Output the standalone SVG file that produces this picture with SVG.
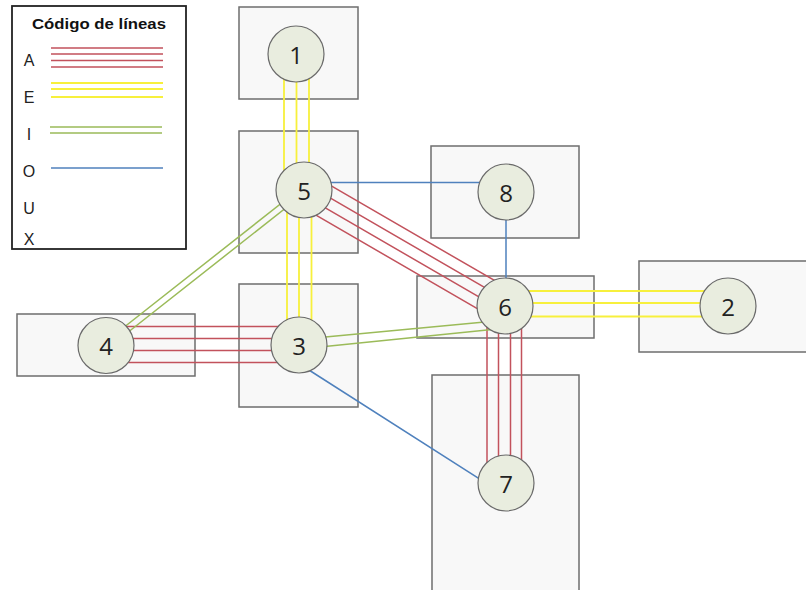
<svg xmlns="http://www.w3.org/2000/svg" width="806" height="590" viewBox="0 0 806 590">
  <style>
    .area { fill: #f8f8f8; stroke: #6e6e6e; stroke-width: 1.5; }
    .node { fill: #e9eddf; stroke: #6a6a6a; stroke-width: 1.2; }
    .num { font-family: "Open Sans", "Liberation Sans", sans-serif; font-size: 24px; fill: #222; text-anchor: middle; dominant-baseline: central; }
    .a { stroke: #c2525c; stroke-width: 1.5; fill: none; }
    .e { stroke: #f7f03c; stroke-width: 1.8; fill: none; }
    .i { stroke: #9bbb59; stroke-width: 1.5; fill: none; }
    .o { stroke: #4f81bd; stroke-width: 1.5; fill: none; }
    .lg { font-family: "Liberation Sans", Arial, sans-serif; font-size: 16px; fill: #222; text-anchor: middle; }
    .lgt { font-family: "Liberation Sans", Arial, sans-serif; font-size: 15px; font-weight: bold; fill: #111; text-anchor: middle; }
  </style>
  <rect width="806" height="590" fill="#ffffff"/>

  <!-- legend -->
  <g id="legend">
    <rect x="12" y="6" width="174" height="243" fill="#ffffff" stroke="#222" stroke-width="1.8"/>
    <text class="lgt" x="99" y="29" textLength="134" lengthAdjust="spacingAndGlyphs">Código de líneas</text>
    <text class="lg" x="29" y="66">A</text>
    <text class="lg" x="29" y="103">E</text>
    <text class="lg" x="29" y="140">I</text>
    <text class="lg" x="29" y="177">O</text>
    <text class="lg" x="29" y="214">U</text>
    <text class="lg" x="29" y="245">X</text>
    <path class="a" d="M51 48H163M51 54H163M51 60.5H163M51 67H163"/>
    <path class="e" d="M51 83H163M51 89H163M51 97H163"/>
    <path class="i" d="M50 127H162M50 133H162"/>
    <path class="o" d="M51 168H163"/>
  </g>

  <!-- department areas -->
  <g id="areas">
    <rect id="area-1" class="area" x="239" y="7" width="119" height="92"/>
    <rect id="area-5" class="area" x="239" y="131" width="119" height="122"/>
    <rect id="area-3" class="area" x="239" y="284" width="119" height="123"/>
    <rect id="area-4" class="area" x="17" y="314" width="178" height="62"/>
    <rect id="area-8" class="area" x="431" y="146" width="148" height="92"/>
    <rect id="area-6" class="area" x="417" y="276" width="177" height="62"/>
    <rect id="area-2" class="area" x="639" y="261" width="168" height="91"/>
    <rect id="area-7" class="area" x="432" y="375" width="147" height="217"/>
  </g>

  <!-- relationship lines -->
  <g id="connectors">
    <!-- 1-5 : E -->
    <path class="e" d="M284 54V190M296.5 54V190M309 54V190"/>
    <!-- 5-3 : E -->
    <path class="e" d="M287 190V345M299 190V345M311.5 190V345"/>
    <!-- 6-2 : E -->
    <path class="e" d="M505 291H728M505 303H728M505 316.5H728"/>
    <!-- 4-3 : A -->
    <path class="a" d="M106 326.5H299M106 338.5H299M106 350.5H299M106 362.5H299"/>
    <!-- 6-7 : A -->
    <path class="a" d="M487 306V483M498.5 306V483M510.5 306V483M521.5 306V483"/>
    <!-- 5-6 : A -->
    <path class="a" d="M312.3 174.9L513.3 291.4M306.8 184.4L507.8 300.9M301.2 193.9L502.2 310.4M295.7 203.4L496.7 319.9"/>
    <!-- 5-4 : I -->
    <path class="i" d="M302 187L104 343M306 192L108 348"/>
    <!-- 3-6 : I -->
    <path class="i" d="M320 337.5L490 321.5M320 347L492 329.5"/>
    <!-- 5-8, 8-6, 3-7 : O -->
    <path class="o" d="M304 182.5H506M506 192V306M305 367.5L490 485.7"/>
  </g>

  <!-- stations -->
  <g id="node-1"><circle class="node" cx="296" cy="54" r="28"/><text class="num" x="296" y="54">1</text></g>
  <g id="node-5"><circle class="node" cx="304" cy="190" r="28"/><text class="num" x="304" y="190">5</text></g>
  <g id="node-3"><circle class="node" cx="299" cy="345" r="28"/><text class="num" x="299" y="345">3</text></g>
  <g id="node-4"><circle class="node" cx="106" cy="345.5" r="28"/><text class="num" x="106" y="345.5">4</text></g>
  <g id="node-8"><circle class="node" cx="506" cy="192" r="28"/><text class="num" x="506" y="192">8</text></g>
  <g id="node-6"><circle class="node" cx="505" cy="306" r="28"/><text class="num" x="505" y="306">6</text></g>
  <g id="node-2"><circle class="node" cx="728" cy="306" r="28"/><text class="num" x="728" y="306">2</text></g>
  <g id="node-7"><circle class="node" cx="506" cy="483" r="28"/><text class="num" x="506" y="483">7</text></g>
</svg>
